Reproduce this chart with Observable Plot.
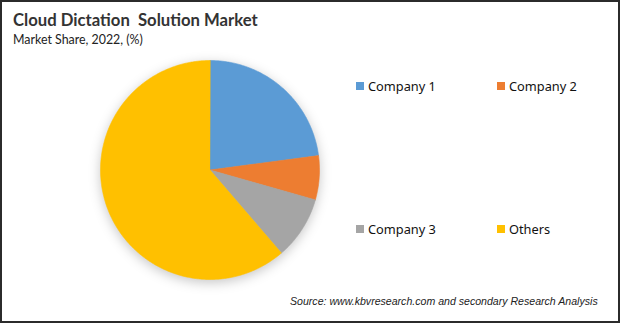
<!DOCTYPE html>
<html>
<head>
<meta charset="utf-8">
<script src="https://cdn.jsdelivr.net/npm/d3@7"></script>
<script src="https://cdn.jsdelivr.net/npm/@observablehq/plot@0.6"></script>
<style>
  html, body { margin: 0; padding: 0; background: #fff; }
  #frame { position: relative; width: 620px; height: 323px; box-sizing: border-box;
           border: 2px solid #2b2b2b; background: #fff; overflow: hidden;
           font-family: "Noto Sans", "Open Sans", sans-serif; color: #222; }
  .txt { position: absolute; white-space: nowrap; line-height: 1; }
  #title { left: 11px; top: 10px; font-size: 16px; font-weight: 700; color: #333; font-family: "Lato", "Noto Sans", sans-serif; }
  #subtitle { left: 11px; top: 32px; font-size: 13px; color: #222; font-family: "Lato", "Noto Sans", sans-serif; }
  #pie { position: absolute; }
  #pie svg { overflow: visible; filter: drop-shadow(0px 3px 6px rgba(0,0,0,0.22)); }
  .leg { position: absolute; font-size: 12.8px; color: #111; white-space: nowrap; display: flex; align-items: center; line-height: 1; }
  .sw { width: 8px; height: 8px; margin-right: 4px; display: inline-block; }
  #source { left: 288px; top: 294px; font-size: 11.5px; font-style: italic; color: #222; font-family: "Liberation Sans", sans-serif; }
</style>
</head>
<body>
<div id="frame">
  <div id="title" class="txt">Cloud Dictation&nbsp; Solution Market</div>
  <div id="subtitle" class="txt">Market Share, 2022, (%)</div>
  <div id="pie"></div>
  <div id="legend"></div>
  <div id="source" class="txt">Source: www.kbvresearch.com and secondary Research Analysis</div>
</div>
<script>
const categories = ["Company 1", "Company 2", "Company 3", "Others"];
const shares = [22.9, 6.5, 9.3, 61.3];
const colors = ["#5B9BD5", "#ED7D31", "#A5A5A5", "#FFC000"];

// pie angles (clockwise from 12 o'clock)
const arcs = d3.pie().sort(null).value(d => d)(shares);
const pts = [];
arcs.forEach((a, i) => {
  const cat = categories[i];
  pts.push({cat, x: 0, y: 0});
  const n = Math.max(4, Math.ceil((a.endAngle - a.startAngle) / 0.01));
  for (let k = 0; k <= n; k++) {
    const t = a.startAngle + (a.endAngle - a.startAngle) * k / n;
    pts.push({cat, x: Math.sin(t), y: Math.cos(t)});
  }
});

const size = 219;
const chart = Plot.plot({
  width: size, height: size,
  margin: 0,
  x: {domain: [-1, 1], axis: null},
  y: {domain: [-1, 1], axis: null},
  color: {domain: categories, range: colors},
  marks: [
    Plot.line(pts, {x: "x", y: "y", z: "cat", fill: "cat", stroke: "cat", strokeWidth: 0.6, curve: "linear-closed"})
  ]
});
const pieDiv = document.getElementById("pie");
pieDiv.style.left = "98px";
pieDiv.style.top = "58px";
pieDiv.appendChild(chart);

const legPos = [[354, 78], [495, 78], [354, 221], [495, 221]];
const leg = document.getElementById("legend");
categories.forEach((c, i) => {
  const d = document.createElement("div");
  d.className = "leg";
  d.style.left = legPos[i][0] + "px";
  d.style.top = legPos[i][1] + "px";
  d.innerHTML = `<span class="sw" style="background:${colors[i]}"></span>${c}`;
  leg.appendChild(d);
});

// fit text widths to the reference widths
function fit(id, target) {
  const el = document.getElementById(id);
  const w = el.getBoundingClientRect().width;
  const fs = parseFloat(getComputedStyle(el).fontSize);
  el.style.fontSize = (fs * target / w) + "px";
}
fit("title", 245);
fit("subtitle", 130);
fit("source", 308);
</script>
</body>
</html>
